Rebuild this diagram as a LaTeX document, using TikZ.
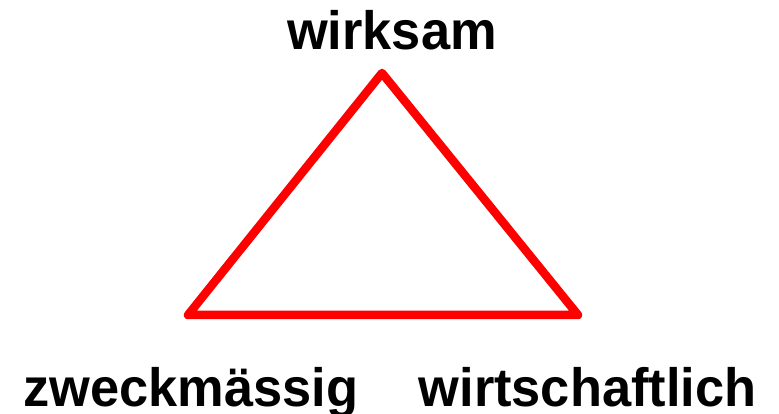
\documentclass[tikz,border=0pt]{standalone}
\usepackage{fontspec}
\setmainfont{Liberation Sans}
\begin{document}
\begin{tikzpicture}[x=1pt,y=1pt,
  lbl/.style={anchor=base,inner sep=0pt,font=\fontsize{54}{60}\selectfont\bfseries},
  tri/.style={draw=red,line width=8.5pt,line join=round}]
\useasboundingbox (0,0) rectangle (779,414);
\coordinate (T) at (382,341);
\coordinate (L) at (188,99);
\coordinate (R) at (578,99);
\draw[tri] (T) -- (R) -- (L) -- cycle;
\node[lbl] (top) at (392,364) {\scalebox{0.97}[1]{wirksam}};
\node[lbl] (left) at (191,7) {\scalebox{0.97}[1]{zweckmässig}};
\node[lbl] (right) at (587.5,7) {\scalebox{0.97}[1]{wirtschaftlich}};
\end{tikzpicture}
\end{document}
